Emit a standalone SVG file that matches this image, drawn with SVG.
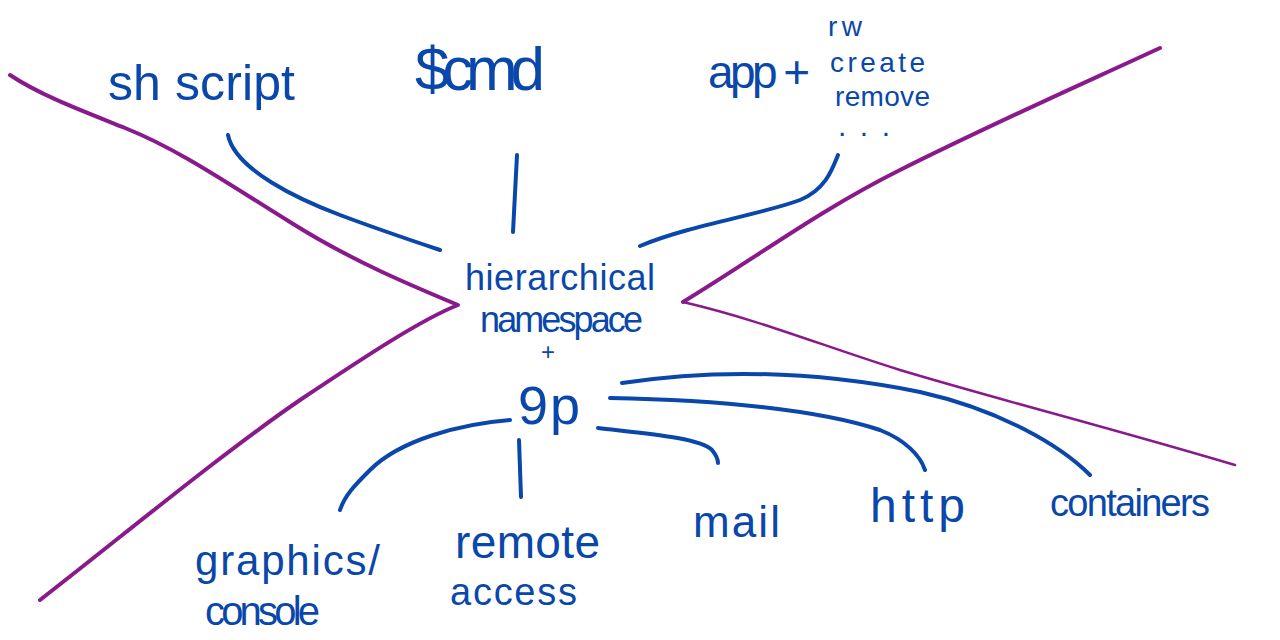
<svg xmlns="http://www.w3.org/2000/svg" width="1280" height="640" viewBox="0 0 1280 640">
<style>
.p{fill:none;stroke:#8a1a8c;stroke-linecap:round;stroke-linejoin:round}
.c{fill:none;stroke:#0a47aa;stroke-width:4;stroke-linecap:round}
text{font-family:"Liberation Sans","DejaVu Sans",sans-serif;fill:#0a47aa}
</style>
<rect width="1280" height="640" fill="#fff"/>
<g id="boundary">
<path class="p" stroke-width="4" d="M10,75 C40,95 80,110 125,128 C180,150 230,185 290,222 C350,260 410,285 458,305 C420,320 360,360 300,400 C220,455 130,530 40,600"/>
<path class="p" stroke-width="4" d="M1160,48 C1080,85 1000,120 900,170 C820,210 760,255 683,302"/>
<path class="p" stroke-width="2.5" d="M683,302 C760,320 820,345 900,370 C1000,400 1100,425 1235,465"/>
</g>
<g id="connectors">
<path class="c" d="M228,135 C235,170 300,200 340,215 C380,230 410,240 440,250"/>
<path class="c" d="M517,155 L513,232"/>
<path class="c" d="M640,246 C690,225 760,215 800,200 C825,190 832,170 838,155"/>
<path class="c" d="M510,420 C460,424 400,440 370,470 C355,485 345,495 340,510"/>
<path class="c" d="M519,440 L521,497"/>
<path class="c" d="M598,428 C650,434 700,438 712,450 C716,455 718,460 718,463"/>
<path class="c" d="M610,398 C720,400 820,410 880,430 C905,440 920,455 925,470"/>
<path class="c" stroke-width="5" d="M622,383 C720,368 820,372 920,392 C1000,410 1060,445 1090,475"/>
</g>
<g id="n-shscript"><text x="108" y="100" font-size="50" textLength="187">sh script</text></g>
<g id="n-cmd"><text x="415" y="90" font-size="62" textLength="130">$cmd</text></g>
<g id="n-app">
<text x="708" y="88" font-size="46" textLength="102">app +</text>
<text x="828" y="36" font-size="28" textLength="34">rw</text>
<text x="830" y="72" font-size="28" textLength="95">create</text>
<text x="835" y="106" font-size="28" textLength="95">remove</text>
<text x="838" y="136" font-size="30" textLength="52">...</text>
</g>
<g id="n-center">
<text x="465" y="290" font-size="36" textLength="190">hierarchical</text>
<text x="480" y="332" font-size="36" textLength="163">namespace</text>
<text x="541" y="360" font-size="24">+</text>
<text x="518" y="424" font-size="54" textLength="62">9p</text>
</g>
<g id="n-graphics">
<text x="195" y="575" font-size="42" textLength="185">graphics/</text>
<text x="205" y="625" font-size="40" textLength="115">console</text>
</g>
<g id="n-remote">
<text x="455" y="558" font-size="46" textLength="145">remote</text>
<text x="450" y="605" font-size="38" textLength="127">access</text>
</g>
<g id="n-mail"><text x="693" y="537" font-size="44" textLength="87">mail</text></g>
<g id="n-http"><text x="870" y="522" font-size="48" textLength="95">http</text></g>
<g id="n-containers"><text x="1050" y="516" font-size="38" textLength="160">containers</text></g>
</svg>
